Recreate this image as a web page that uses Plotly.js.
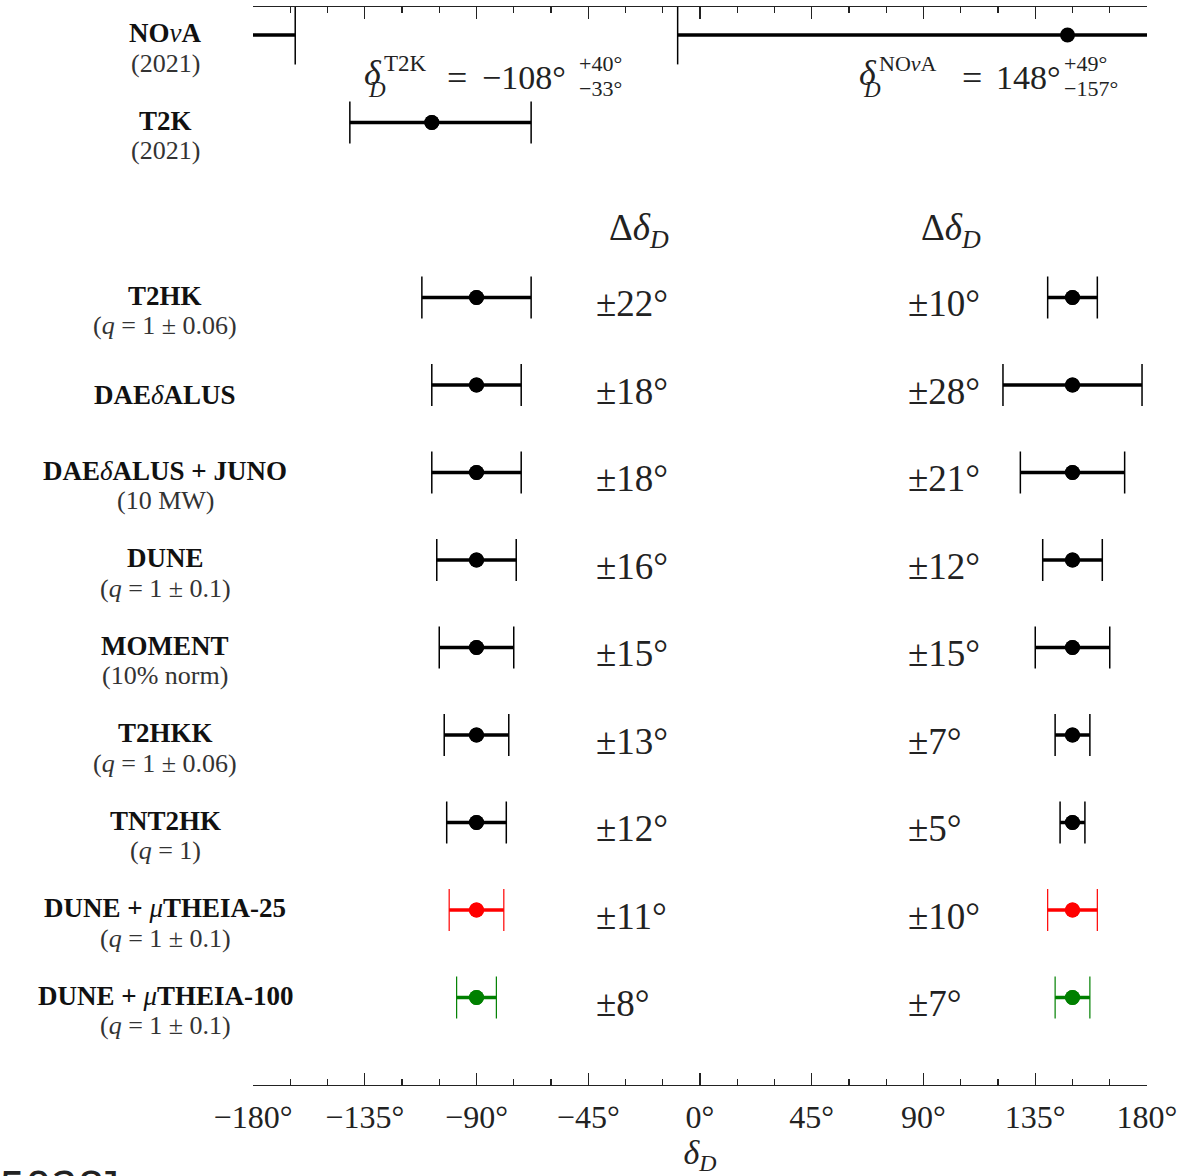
<!DOCTYPE html>
<html>
<head>
<meta charset="utf-8">
<script src="https://cdn.plot.ly/plotly-3.0.1.min.js"></script>
<style>html,body{margin:0;padding:0;background:#fff;}#chart{width:1191px;height:1176px;}</style>
</head>
<body>
<div id="chart"></div>
<script>
// ---------------- DATA ----------------
// current measurements (2021)
const measNames = ['<b>NO</b><i>ν</i><b>A</b>', '<b>T2K</b>'];
const measSub = ['(2021)', '(2021)'];
const measCentral = [148, -108];
const measPlus = [49, 40];
const measMinus = [157, 33];

// future experiments
const expNames = [
  '<b>T2HK</b>',
  '<b>DAE</b><i>δ</i><b>ALUS</b>',
  '<b>DAE</b><i>δ</i><b>ALUS + JUNO</b>',
  '<b>DUNE</b>',
  '<b>MOMENT</b>',
  '<b>T2HKK</b>',
  '<b>TNT2HK</b>',
  '<b>DUNE + </b><i>μ</i><b>THEIA-25</b>',
  '<b>DUNE + </b><i>μ</i><b>THEIA-100</b>'
];
const expSub = [
  '(<i>q</i> = 1 ± 0.06)',
  '',
  '(10 MW)',
  '(<i>q</i> = 1 ± 0.1)',
  '(10% norm)',
  '(<i>q</i> = 1 ± 0.06)',
  '(<i>q</i> = 1)',
  '(<i>q</i> = 1 ± 0.1)',
  '(<i>q</i> = 1 ± 0.1)'
];
const leftCentral  = [-90, -90, -90, -90, -90, -90, -90, -90, -90];
const leftErr      = [22, 18, 18, 16, 15, 13, 12, 11, 8];
const rightCentral = [150, 150, 150, 150, 150, 150, 150, 150, 150];
const rightErr     = [10, 28, 21, 12, 15, 7, 5, 10, 7];

const tickVals = [-180, -135, -90, -45, 0, 45, 90, 135, 180];
const tickText = ['−180°', '−135°', '−90°', '−45°', '0°', '45°', '90°', '135°', '180°'];

// ---------------- STYLE / LAYOUT HELPERS ----------------
const W = 1191, H = 1176;
const L = 253, R = 1147, T = 7, B = 1085;
const px = x => (x - L) / (R - L);
const py = y => (B - y) / (B - T);
const SERIF = 'Liberation Serif, Times New Roman, serif';
const expColors = ['#000', '#000', '#000', '#000', '#000', '#000', '#000', '#ff0000', '#008000'];
const measRow = [0, 1];
const expRow0 = 3;

const traces = [];
const annotations = [];

function rowLabel(row, name, sub) {
  annotations.push({xref: 'paper', yref: 'y', x: px(165), y: row, xanchor: 'center', yanchor: 'middle',
    yshift: sub ? 2 : -10, showarrow: false, text: name,
    font: {family: SERIF, size: 27, color: '#111'}});
  if (sub) {
    annotations.push({xref: 'paper', yref: 'y', x: px(165), y: row, xanchor: 'center', yanchor: 'middle',
      yshift: -28, showarrow: false, text: sub,
      font: {family: SERIF, size: 26, color: '#333'}});
  }
}

// T2K (regular error bar)
traces.push({
  x: [measCentral[1]], y: [measRow[1]], type: 'scatter', mode: 'markers',
  marker: {color: '#000', size: 15},
  error_x: {type: 'data', symmetric: false, array: [measPlus[1]], arrayminus: [measMinus[1]],
            color: '#000', thickness: 1.5, width: 21}
});
traces.push({
  x: [measCentral[1]], y: [measRow[1]], type: 'scatter', mode: 'markers',
  marker: {color: '#000', size: 15},
  error_x: {type: 'data', symmetric: false, array: [measPlus[1]], arrayminus: [measMinus[1]],
            color: '#000', thickness: 3.5, width: 0}
});

// NOvA: interval wraps around ±180°
(function () {
  const c = measCentral[0];
  const lo = c - measMinus[0];
  const hi = c + measPlus[0];
  const hiWrapped = hi > 180 ? hi - 360 : hi;
  const xs = hi > 180 ? [lo, 180, null, -180, hiWrapped] : [lo, hi];
  const ys = xs.map(v => v === null ? null : measRow[0]);
  traces.push({x: xs, y: ys, type: 'scatter', mode: 'lines',
               line: {color: '#000', width: 3.5}, hoverinfo: 'skip'});
  traces.push({x: [lo, hiWrapped], y: [measRow[0], measRow[0]], type: 'scatter', mode: 'markers',
               marker: {symbol: 'line-ns', size: 42, line: {color: '#000', width: 1.5}}});
  traces.push({x: [c], y: [measRow[0]], type: 'scatter', mode: 'markers',
               marker: {color: '#000', size: 15}});
})();

// Future experiments
for (let i = 0; i < expNames.length; i++) {
  const row = expRow0 + i;
  const col = expColors[i];
  const capW = col === '#000' ? 1.5 : 1.2;
  traces.push({
    x: [leftCentral[i], rightCentral[i]], y: [row, row], type: 'scatter', mode: 'markers',
    marker: {color: col, size: 15},
    error_x: {type: 'data', array: [leftErr[i], rightErr[i]], color: col, thickness: capW, width: 21}
  });
  traces.push({
    x: [leftCentral[i], rightCentral[i]], y: [row, row], type: 'scatter', mode: 'markers',
    marker: {color: col, size: 15},
    error_x: {type: 'data', array: [leftErr[i], rightErr[i]], color: col, thickness: 3.5, width: 0}
  });
  rowLabel(row, expNames[i], expSub[i]);
  annotations.push({xref: 'paper', yref: 'y', x: px(594), y: row, xanchor: 'left', yanchor: 'middle',
    yshift: -6, showarrow: false, text: '±' + leftErr[i] + '°',
    font: {family: SERIF, size: 37, color: '#222'}});
  annotations.push({xref: 'paper', yref: 'y', x: px(906), y: row, xanchor: 'left', yanchor: 'middle',
    yshift: -6, showarrow: false, text: '±' + rightErr[i] + '°',
    font: {family: SERIF, size: 37, color: '#222'}});
}

// measurement labels
for (let j = 0; j < measNames.length; j++) {
  rowLabel(measRow[j], measNames[j], measSub[j]);
}

// column headers
[[607, 'Δ<i>δ</i><sub><i>D</i></sub>'], [919, 'Δ<i>δ</i><sub><i>D</i></sub>']].forEach(h => {
  annotations.push({xref: 'paper', yref: 'paper', x: px(h[0]), y: py(230), xanchor: 'left', yanchor: 'middle',
    showarrow: false, text: h[1], font: {family: SERIF, size: 37, color: '#222'}});
});

// measurement value formulas
function fm(x0, label, labelSize, eqX, numX, mainText, plusX, plus, minus) {
  const f = (x, y, text, size) => annotations.push({xref: 'paper', yref: 'paper', x: px(x), y: py(y),
    xanchor: 'left', yanchor: 'middle', showarrow: false, text: text, borderpad: 0,
    font: {family: SERIF, size: size, color: '#222'}});
  f(x0 - 2, 73, '<i>δ</i>', 36);
  f(x0 + 18, 63, label, labelSize);
  f(x0 + 2, 90, '<i>D</i>', 23);
  f(eqX - 2, 78, '=', 36);
  f(numX - 2, 78, mainText, 34);
  f(plusX - 2, 64, plus, 22);
  f(plusX - 2, 88, minus, 22);
}
fm(365, 'T2K', 23, 448, 483, '−' + Math.abs(measCentral[1]) + '°', 580,
   '+' + measPlus[1] + '°', '−' + measMinus[1] + '°');
fm(860, 'NO<i>ν</i>A', 22, 963, 997, measCentral[0] + '°', 1065,
   '+' + measPlus[0] + '°', '−' + measMinus[0] + '°');

// clipped fragment at bottom-left
annotations.push({xref: 'paper', yref: 'paper', x: px(-3), y: py(1153), xanchor: 'left', yanchor: 'top',
  showarrow: false, text: '5028]', font: {family: 'Noto Sans, sans-serif', size: 46, color: '#222'}});

const layout = {
  width: W, height: H,
  margin: {l: L, r: W - R, t: T, b: H - B, pad: 0},
  paper_bgcolor: '#fff', plot_bgcolor: '#fff',
  showlegend: false,
  xaxis: {
    range: [-180, 180], tickmode: 'array', tickvals: tickVals, ticktext: tickText,
    ticks: 'inside', ticklen: 12, tickwidth: 1.3, tickcolor: '#222',
    showline: true, linecolor: '#222', linewidth: 1.3, mirror: 'ticks',
    showgrid: false, zeroline: false,
    minor: {tickmode: 'linear', tick0: -180, dtick: 15, ticks: 'inside', ticklen: 6, tickwidth: 1.3,
            tickcolor: '#222', showgrid: false},
    tickfont: {family: SERIF, size: 32, color: '#222'},
    ticklabelstandoff: 3,
    title: {text: '<i>δ</i><sub><i>D</i></sub>', font: {family: SERIF, size: 34, color: '#222'}, standoff: 4}
  },
  yaxis: {range: [12, -0.32], visible: false, showgrid: false, zeroline: false, fixedrange: true},
  annotations: annotations
};

Plotly.newPlot('chart', traces, layout, {staticPlot: true});
</script>
</body>
</html>
